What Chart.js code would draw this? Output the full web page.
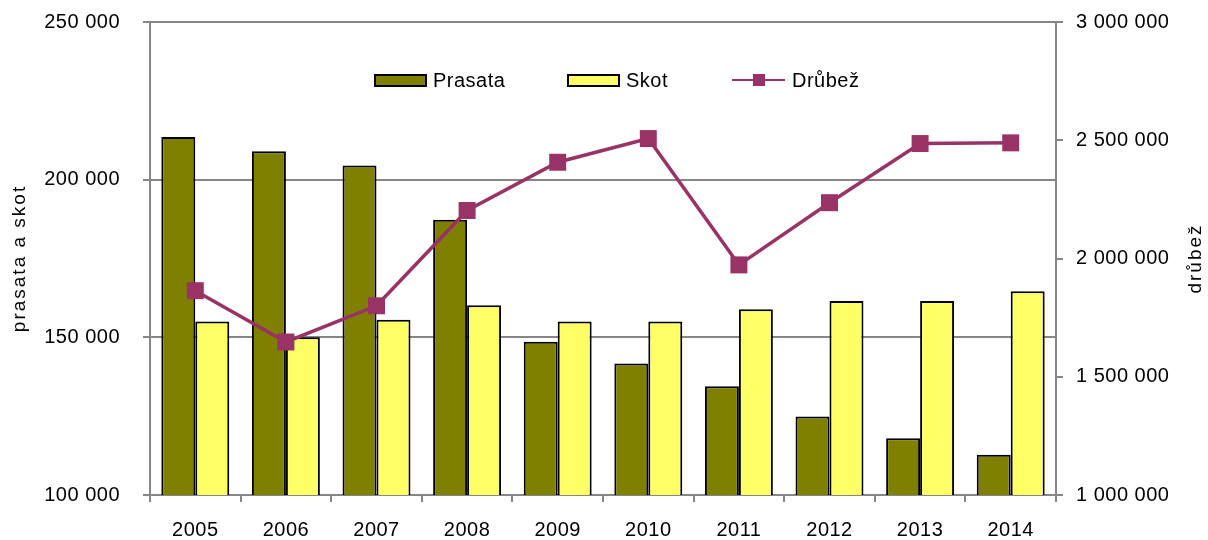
<!DOCTYPE html>
<html>
<head>
<meta charset="utf-8">
<script src="https://cdn.jsdelivr.net/npm/chart.js@4"></script>
<style>
  html, body { margin: 0; padding: 0; background: #fff; }
  #wrap { width: 1208px; height: 540px; }
</style>
</head>
<body>
<div id="wrap"><canvas id="myChart"></canvas></div>
<script>
const years = ["2005", "2006", "2007", "2008", "2009", "2010", "2011", "2012", "2013", "2014"];
const prasata = [213500, 209000, 204500, 187300, 148600, 141700, 134500, 124900, 118000, 112800];
const skot = [155000, 150000, 155600, 160200, 155000, 155000, 158900, 161500, 161500, 164600];
const drubez = [1864000, 1647000, 1800000, 2203000, 2407000, 2507000, 1973000, 2236000, 2486000, 2489000];

const leftTitle = "prasata a skot";
const rightTitle = "drůbež";

const FONT = "'Liberation Sans', Arial, sans-serif";
const AXIS_GREY = "#868686";

const fmt = (v) => String(v).replace(/\B(?=(\d{3})+(?!\d))/g, " ");

// legend and axis titles drawn by hand (legend sits inside the plot)
const extras = {
  id: "extras",
  beforeDraw(chart) {
    chart.ctx.letterSpacing = "0.5px";
  },
  afterDraw(chart) {
    const ctx = chart.ctx;
    const area = chart.chartArea;
    ctx.save();
    ctx.font = "19px " + FONT;
    ctx.fillStyle = "#000";
    ctx.textBaseline = "middle";

    // axis titles, both reading bottom to top
    ctx.letterSpacing = "2px";
    const midY = (area.top + area.bottom) / 2;
    [[20, leftTitle], [1196, rightTitle]].forEach(([x, t]) => {
      ctx.save();
      ctx.translate(x, midY);
      ctx.rotate(-Math.PI / 2);
      ctx.textAlign = "center";
      ctx.fillText(t, 0, 0);
      ctx.restore();
    });

    // legend: Prasata, Skot, Drůbež
    ctx.font = "20px " + FONT;
    ctx.letterSpacing = "0.5px";
    const ly = 80;
    const starts = [375, 568, 732];
    const order = [1, 2, 0];
    order.forEach((idx, i) => {
      const ds = chart.data.datasets[idx];
      const x = starts[i];
      let tx;
      if (ds.type === "line") {
        ctx.strokeStyle = ds.borderColor;
        ctx.lineWidth = 2;
        ctx.beginPath();
        ctx.moveTo(x, ly);
        ctx.lineTo(x + 53, ly);
        ctx.stroke();
        ctx.fillStyle = ds.borderColor;
        ctx.fillRect(x + 21, ly - 6, 12, 12);
        tx = x + 60;
      } else {
        ctx.fillStyle = ds.backgroundColor;
        ctx.fillRect(x, ly - 5, 51, 11);
        ctx.strokeStyle = "#000";
        ctx.lineWidth = 2;
        ctx.strokeRect(x, ly - 5, 51, 11);
        tx = x + 58;
      }
      ctx.fillStyle = "#000";
      ctx.textAlign = "left";
      ctx.fillText(ds.label, tx, ly + 1);
    });
    ctx.restore();
    ctx.letterSpacing = "0px";
  }
};

const data = {
  labels: years,
  datasets: [
    {
      type: "line",
      label: "Drůbež",
      data: drubez,
      yAxisID: "y1",
      borderColor: "#993366",
      backgroundColor: "#993366",
      borderWidth: 3.5,
      pointStyle: "rect",
      pointRadius: 12,
      pointHoverRadius: 12,
      pointBorderWidth: 0,
      order: 0,
    },
    {
      label: "Prasata",
      data: prasata,
      yAxisID: "y",
      backgroundColor: "#808000",
      borderColor: "#000",
      borderWidth: 2,
      categoryPercentage: 0.75,
      barPercentage: 1,
      order: 1,
    },
    {
      label: "Skot",
      data: skot,
      yAxisID: "y",
      backgroundColor: "#FFFF66",
      borderColor: "#000",
      borderWidth: 2,
      categoryPercentage: 0.75,
      barPercentage: 1,
      order: 2,
    },
  ],
};

const tickFont = { family: FONT, size: 20 };

// fixed axis box sizes, and no extra room kept for the end labels
const fixY = (w) => (s) => {
  s.width = w;
  s.paddingTop = 0;
  s.paddingBottom = 0;
};

const config = {
  type: "bar",
  data: data,
  plugins: [extras],
  options: {
    responsive: false,
    animation: false,
    devicePixelRatio: 1,
    layout: { padding: { top: 22, left: 0, right: 0, bottom: 0 } },
    plugins: {
      legend: { display: false },
      tooltip: { enabled: false },
    },
    scales: {
      x: {
        grid: { offset: true, drawOnChartArea: false, color: AXIS_GREY, lineWidth: 2, tickLength: 7 },
        border: { color: AXIS_GREY, width: 2 },
        ticks: { color: "#000", font: tickFont, padding: 16, maxRotation: 0 },
        afterFit: (s) => { s.height = 45; },
      },
      y: {
        position: "left",
        min: 100000,
        max: 250000,
        ticks: { stepSize: 50000, color: "#000", font: tickFont, padding: 23, callback: fmt },
        grid: { color: AXIS_GREY, lineWidth: 2, tickLength: 7 },
        border: { color: AXIS_GREY, width: 2 },
        afterFit: fixY(150),
      },
      y1: {
        position: "right",
        min: 1000000,
        max: 3000000,
        ticks: { stepSize: 500000, color: "#000", font: tickFont, padding: 13, callback: fmt },
        grid: { drawOnChartArea: false, color: AXIS_GREY, lineWidth: 2, tickLength: 7 },
        border: { color: AXIS_GREY, width: 2 },
        afterFit: fixY(152),
      },
    },
  },
};

const canvas = document.getElementById("myChart");
canvas.width = 1208;
canvas.height = 540;
const myChart = new Chart(canvas, config);
</script>
</body>
</html>
